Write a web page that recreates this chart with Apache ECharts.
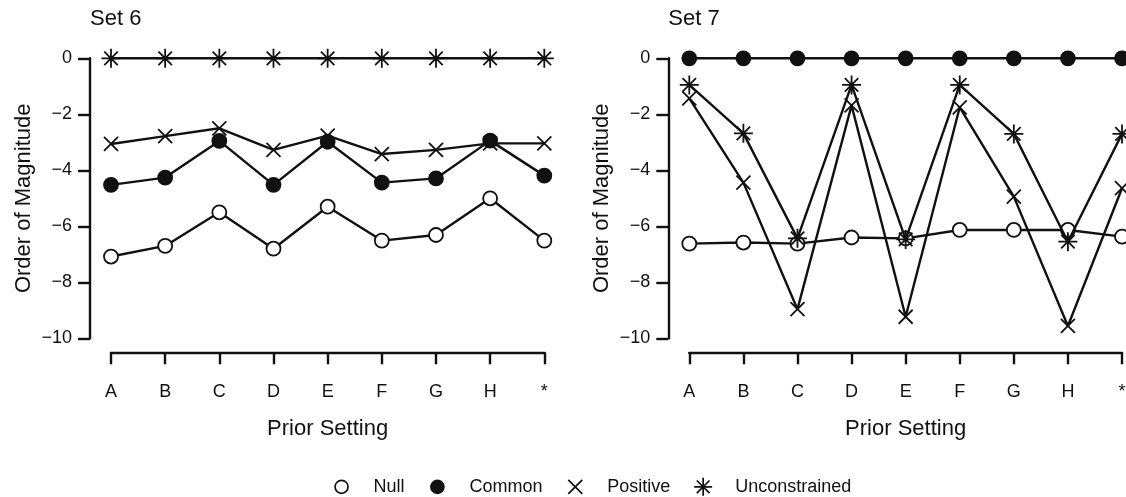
<!DOCTYPE html>
<html>
<head>
<meta charset="utf-8">
<script src="https://cdn.jsdelivr.net/npm/echarts@6/dist/echarts.min.js"></script>
<style>
html,body{margin:0;padding:0;background:#fff;}
#chart{width:1126px;height:497px;}
</style>
</head>
<body>
<div id="chart"></div>
<script>
// ---- data ----
const categories = ['A', 'B', 'C', 'D', 'E', 'F', 'G', 'H', '*'];
const yTicks = [-10, -8, -6, -4, -2, 0];
const seriesNames = ['Null', 'Common', 'Positive', 'Unconstrained'];
const panelTitles = ['Set 6', 'Set 7'];

const set6Null          = [-7.08, -6.70, -5.50, -6.80, -5.30, -6.51, -6.31, -5.00, -6.51];
const set6Common        = [-4.52, -4.26, -2.95, -4.52, -2.98, -4.44, -4.29, -2.94, -4.19];
const set6Positive      = [-3.06, -2.78, -2.50, -3.27, -2.76, -3.42, -3.27, -3.04, -3.04];
const set6Unconstrained = [0, 0, 0, 0, 0, 0, 0, 0, 0];

const set7Null          = [-6.62, -6.58, -6.62, -6.40, -6.43, -6.13, -6.13, -6.13, -6.37];
const set7Common        = [0, 0, 0, 0, 0, 0, 0, 0, 0];
const set7Positive      = [-1.43, -4.44, -8.96, -1.68, -9.23, -1.75, -4.94, -9.56, -4.64];
const set7Unconstrained = [-0.95, -2.68, -6.43, -0.95, -6.47, -0.95, -2.70, -6.55, -2.70];

// ---- styles ----
const FONT = 'Liberation Sans, Arial, Helvetica, sans-serif';
const INK = '#111';
const X_PATH = 'path://M0,0L10,10M10,0L0,10';
const STAR_PATH = 'path://M5,0L5,10M0,5L10,5M1.46,1.46L8.54,8.54M8.54,1.46L1.46,8.54';

const styleFor = {
  'Null':          {symbol: 'circle', size: 14, fill: '#fff'},
  'Common':        {symbol: 'circle', size: 14, fill: INK},
  'Positive':      {symbol: X_PATH, size: 14, fill: INK},
  'Unconstrained': {symbol: STAR_PATH, size: 19, fill: INK}
};

const legendIcons = {
  'Null': 'path://M0,0M18,18M15.5,9A6.5,6.5,0,1,1,2.5,9A6.5,6.5,0,1,1,15.5,9Z',
  'Common': 'path://M0,0M18,18M15.5,9A6.5,6.5,0,1,1,2.5,9A6.5,6.5,0,1,1,15.5,9Z',
  'Positive': 'path://M0,0M18,18M2,2L16,16M16,2L2,16',
  'Unconstrained': 'path://M9,0L9,18M0,9L18,9M2.64,2.64L15.36,15.36M15.36,2.64L2.64,15.36'
};

const panels = [
  {left: 111, width: 433.3, axisX: 90, data: [set6Null, set6Common, set6Positive, set6Unconstrained]},
  {left: 689.3, width: 432.7, axisX: 668.3, data: [set7Null, set7Common, set7Positive, set7Unconstrained]}
];

const minus = v => String(v).replace('-', '\u2212');

const grids = [], xAxes = [], yAxes = [], series = [], titles = [];
panels.forEach((p, i) => {
  grids.push({left: p.left, top: 58.3, width: p.width, height: 280, containLabel: false, outerBoundsMode: 'none'});
  titles.push({
    text: panelTitles[i], left: p.axisX, top: 8, padding: 0,
    textStyle: {fontFamily: FONT, fontSize: 22, fontWeight: 'normal', color: INK}
  });
  xAxes.push({
    type: 'category', gridIndex: i, data: categories, boundaryGap: false,
    offset: 14,
    axisLine: {show: true, onZero: false, lineStyle: {color: INK, width: 2.4}},
    axisTick: {show: true, length: 12, lineStyle: {color: INK, width: 2.4}},
    axisLabel: {fontFamily: FONT, fontSize: 18, color: INK, margin: 31, interval: 0},
    splitLine: {show: false},
    name: 'Prior Setting', nameLocation: 'middle', nameGap: 66,
    nameTextStyle: {fontFamily: FONT, fontSize: 22, color: INK}
  });
  yAxes.push({
    type: 'value', gridIndex: i, min: yTicks[0], max: yTicks[yTicks.length - 1], interval: 2,
    offset: p.left - p.axisX,
    axisLine: {show: true, onZero: false, lineStyle: {color: INK, width: 2.4}},
    axisTick: {show: true, length: 12, lineStyle: {color: INK, width: 2.4}},
    axisLabel: {fontFamily: FONT, fontSize: 18, color: INK, margin: 18, formatter: minus},
    splitLine: {show: false},
    name: 'Order of Magnitude', nameLocation: 'middle', nameGap: 55, nameRotate: 90,
    nameTextStyle: {fontFamily: FONT, fontSize: 22, color: INK}
  });
  seriesNames.forEach((name, k) => {
    const st = styleFor[name];
    series.push({
      name: name, type: 'line', xAxisIndex: i, yAxisIndex: i,
      data: p.data[k],
      symbol: st.symbol, symbolSize: st.size, showAllSymbol: true,
      clip: false, silent: true,
      lineStyle: {color: INK, width: 2.4},
      itemStyle: {color: st.fill, borderColor: INK, borderWidth: 1.8},
      emphasis: {disabled: true},
      z: 2 + k
    });
  });
});

const legendData = seriesNames.map(name => ({
  name: name,
  icon: legendIcons[name],
  itemStyle: {color: styleFor[name].fill, borderColor: INK, borderWidth: 1.7}
}));

const option = {
  backgroundColor: '#fff',
  animation: false,
  title: titles,
  grid: grids,
  xAxis: xAxes,
  yAxis: yAxes,
  legend: {
    data: legendData,
    orient: 'horizontal',
    left: 331.7, top: 477, padding: 0,
    itemWidth: 18, itemHeight: 18, itemGap: 23,
    selectedMode: false,
    textStyle: {fontFamily: FONT, fontSize: 18, color: INK, padding: [0, 0, 0, 18]}
  },
  series: series
};

const chart = echarts.init(document.getElementById('chart'), null, {renderer: 'canvas'});
chart.setOption(option);
</script>
</body>
</html>
